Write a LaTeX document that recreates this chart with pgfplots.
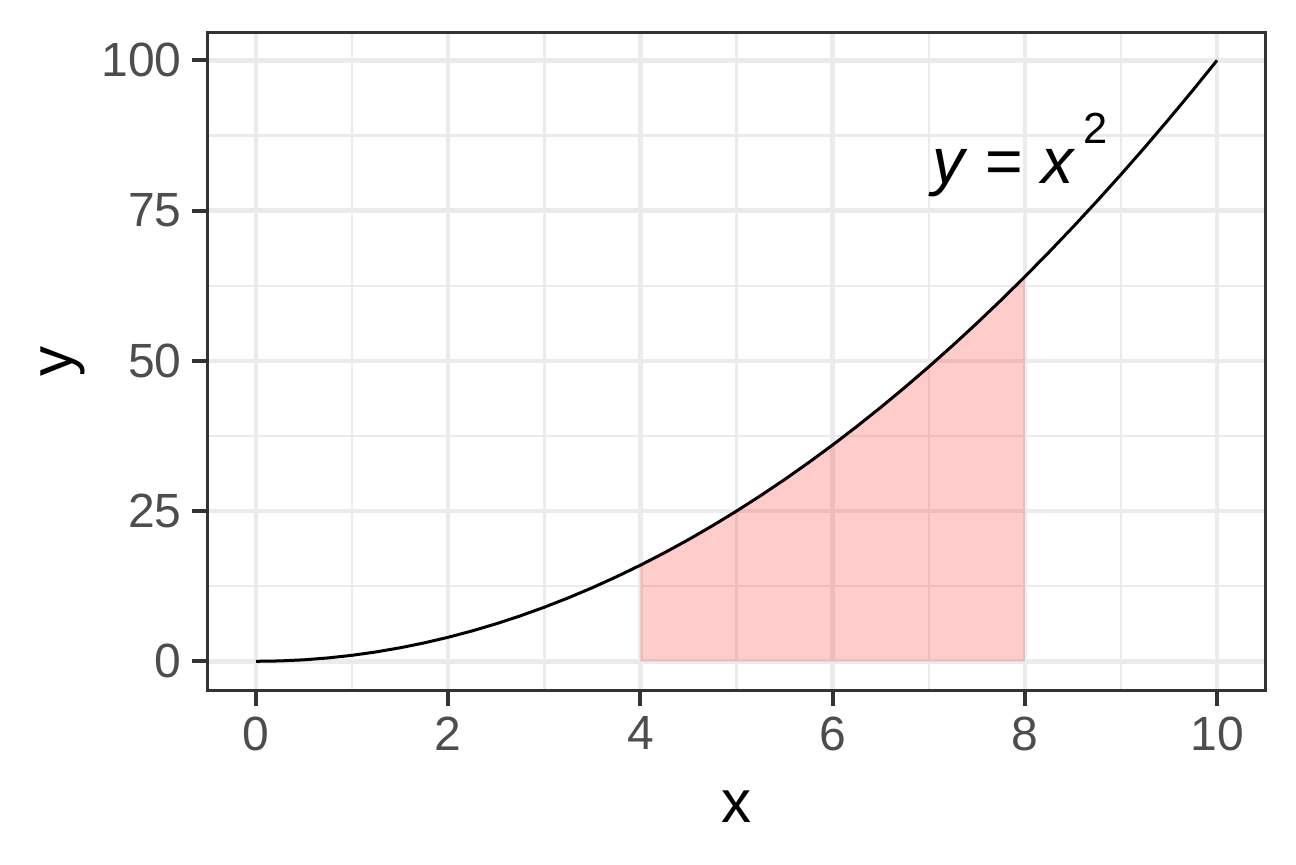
\documentclass[border=0pt]{standalone}
\usepackage{fontspec}
\setmainfont{Liberation Sans}
\usepackage{pgfplots}
\pgfplotsset{compat=1.18}
\definecolor{gridc}{HTML}{EBEBEB}
\definecolor{tickc}{HTML}{4D4D4D}
\definecolor{framec}{HTML}{333333}
\begin{document}
\begin{tikzpicture}
\begin{axis}[
  scale only axis,
  width=352.3pt, height=219.3pt,
  xmin=-0.5, xmax=10.5, ymin=-4.8, ymax=104.7,
  xtick={0,2,4,6,8,10}, ytick={0,25,50,75,100},
  minor xtick={1,3,5,7,9}, minor ytick={12.5,37.5,62.5,87.5},
  grid=both,
  major grid style={draw=gridc, line width=1.5pt},
  minor grid style={draw=gridc, line width=0.8pt},
  axis line style={draw=framec, line width=1pt},
  tick pos=left, tick align=outside,
  major tick length=5.3pt, minor tick length=0pt,
  tick style={draw=framec, line width=1.3pt},
  ticklabel style={font=\fontsize{16}{19}\selectfont, text=tickc},
  /pgf/number format/assume math mode=true,
  xlabel={x}, ylabel={y},
  label style={font=\fontsize{20}{24}\selectfont},
  xlabel style={at={(axis description cs:0.5,-0.1765)}, anchor=center},
  ylabel style={at={(axis description cs:-0.137,0.5)}, anchor=center, rotate=0},
  clip=false,
]
\addplot[draw=none, fill=red, fill opacity=0.2] coordinates {
(4,0) (4,16) (4.25,18.0625) (4.5,20.25) (4.75,22.5625) (5,25) (5.25,27.5625) (5.5,30.25) (5.75,33.0625)
(6,36) (6.25,39.0625) (6.5,42.25) (6.75,45.5625) (7,49) (7.25,52.5625) (7.5,56.25) (7.75,60.0625) (8,64) (8,0)
} -- cycle;
\addplot[black, line width=1pt] coordinates {
(0,0) (0.25,0.0625) (0.5,0.25) (0.75,0.5625) (1,1) (1.25,1.5625) (1.5,2.25) (1.75,3.0625)
(2,4) (2.25,5.0625) (2.5,6.25) (2.75,7.5625) (3,9) (3.25,10.5625) (3.5,12.25) (3.75,14.0625)
(4,16) (4.25,18.0625) (4.5,20.25) (4.75,22.5625) (5,25) (5.25,27.5625) (5.5,30.25) (5.75,33.0625)
(6,36) (6.25,39.0625) (6.5,42.25) (6.75,45.5625) (7,49) (7.25,52.5625) (7.5,56.25) (7.75,60.0625)
(8,64) (8.25,68.0625) (8.5,72.25) (8.75,76.5625) (9,81) (9.25,85.5625) (9.5,90.25) (9.75,95.0625) (10,100)
};
\node[font=\fontsize{21.5}{26}\selectfont, anchor=center, inner sep=0pt] at (axis cs:7.95,84.3) {\textit{y} = \textit{x}\kern0.12em\raisebox{0.62em}{\fontsize{14.5}{17}\selectfont 2}};
\coordinate (sw) at (rel axis cs:0,0);
\coordinate (ne) at (rel axis cs:1,1);
\end{axis}
\pgfresetboundingbox
\path[use as bounding box] ([shift={(-69.3pt,-58pt)}]sw) rectangle ([shift={(10.3pt,10.7pt)}]ne);
\end{tikzpicture}
\end{document}
